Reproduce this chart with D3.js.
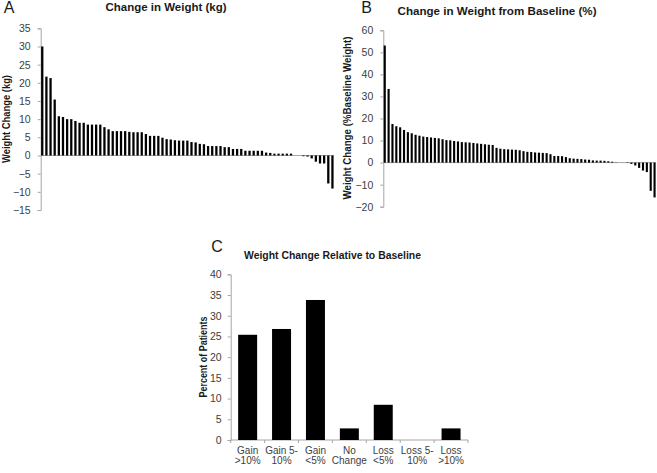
<!DOCTYPE html>
<html>
<head>
<meta charset="utf-8">
<script src="https://cdn.jsdelivr.net/npm/d3@7"></script>
<style>
  body { margin: 0; background: #fff; }
  svg { display: block; font-family: "Liberation Sans", Arial, sans-serif; }
  .axis path, .axis line { stroke: #a6a6a6; }
  .axis text { fill: #404040; font-size: 10.5px; }
  .axis text.cat { font-size: 10px; }
</style>
</head>
<body>
<div id="chart"></div>
<script>
// panel A: change in weight (kg), sorted by patient
const kgChange = [30, 21.7, 21.3, 15.4, 10.8, 10.6, 10.0, 10.0, 9.5, 9.0, 9.0, 8.5, 8.5, 8.5, 8.5,
  7.8, 7.2, 6.7, 6.7, 6.7, 6.7, 6.5, 6.4, 6.4, 6.4, 5.9, 5.4, 5.4, 5.4, 4.9, 4.5, 4.4, 4.2, 4.1,
  4.1, 4.1, 3.7, 3.6, 3.2, 3.1, 2.6, 2.6, 2.6, 2.6, 2.3, 2.3, 1.8, 1.8, 1.8, 1.3, 1.3, 1.3, 1.3,
  1.3, 0.8, 0.7, 0.5, 0.5, 0.5, 0.5, 0.5, 0, 0, -0.2, -0.3, -0.8, -1.7, -2.2, -2.2, -7.7, -9.1];

// panel B: change from baseline (%)
const pctChange = [53.1, 33.4, 17.5, 16.5, 16.0, 14.8, 13.8, 13.3, 12.6, 12.2, 11.8, 11.6, 11.4,
  11.2, 11.0, 10.6, 10.2, 10.1, 9.8, 9.6, 9.3, 9.2, 9.1, 8.9, 8.7, 8.5, 8.3, 8.1, 8.0, 6.7, 6.3,
  6.1, 6.0, 5.9, 5.8, 5.6, 5.2, 4.9, 4.8, 4.6, 4.5, 4.4, 4.3, 3.8, 3.0, 3.0, 2.9, 2.5, 2.0, 1.8,
  1.7, 1.6, 1.4, 1.3, 1.0, 0.9, 0.9, 0.8, 0.6, 0.4, 0.1, 0, 0, -0.2, -0.6, -1.3, -2.4, -3.6,
  -4.3, -12.8, -15.8];

// panel C: categories
const categories = [["Gain", ">10%"], ["Gain 5-", "10%"], ["Gain", "<5%"], ["No", "Change"],
  ["Loss", "<5%"], ["Loss 5-", "10%"], ["Loss", ">10%"]];
const percentPatients = [25.4, 26.8, 33.8, 2.8, 8.5, 0, 2.8];

const ticksA = d3.range(-15, 36, 5);
const ticksB = d3.range(-20, 61, 10);
const ticksC = d3.range(0, 41, 5);

const svg = d3.select("#chart").append("svg")
  .attr("width", 657)
  .attr("height", 473);

function addLabel(x, y, txt, size, weight, len) {
  const t = svg.append("text")
    .attr("x", x).attr("y", y)
    .attr("text-anchor", "middle")
    .style("font-size", size + "px")
    .style("font-weight", weight)
    .style("fill", "#1a1a1a")
    .text(txt);
  if (len) t.attr("textLength", len).attr("lengthAdjust", "spacingAndGlyphs");
  return t;
}

function addYTitle(x, y, txt, len) {
  svg.append("text")
    .attr("transform", `translate(${x},${y}) rotate(-90)`)
    .attr("text-anchor", "middle")
    .style("font-size", "10px")
    .style("font-weight", "bold")
    .style("fill", "#1a1a1a")
    .attr("textLength", len)
    .attr("lengthAdjust", "spacingAndGlyphs")
    .text(txt);
}

// sorted bar panel (A and B)
function sortedBars(values, xr, yr, domain, ticks) {
  const x = d3.scaleBand()
    .domain(d3.range(values.length))
    .range(xr)
    .paddingInner(0.45)
    .paddingOuter(0.1);
  const y = d3.scaleLinear().domain(domain).range(yr);

  svg.append("g")
    .attr("class", "axis")
    .attr("transform", `translate(${xr[0]},0)`)
    .call(d3.axisLeft(y).tickValues(ticks).tickSize(3).tickSizeOuter(3).tickPadding(7));

  svg.append("line")
    .attr("x1", xr[0]).attr("x2", xr[1])
    .attr("y1", y(0)).attr("y2", y(0))
    .attr("stroke", "#a6a6a6");

  svg.append("g")
    .selectAll("rect")
    .data(values)
    .join("rect")
    .attr("x", (d, i) => x(i))
    .attr("width", x.bandwidth())
    .attr("y", d => y(Math.max(0, d)))
    .attr("height", d => Math.abs(y(d) - y(0)))
    .attr("fill", "#000");
}

// A
sortedBars(kgChange, [40.7, 334], [210, 28.3], [-15, 35], ticksA);
addLabel(9, 13, "A", 16, "normal");
addLabel(166, 11, "Change in Weight (kg)", 11, "bold", 121);
addYTitle(10, 119, "Weight Change (kg)", 88);

// B
sortedBars(pctChange, [383.3, 656], [206.7, 30.3], [-20, 60], ticksB);
addLabel(366.5, 13, "B", 16, "normal");
addLabel(497, 15, "Change in Weight from Baseline (%)", 11, "bold", 199);
addYTitle(351, 118, "Weight Change  (%Baseline Weight)", 163);

// C
const xC = d3.scaleBand()
  .domain(d3.range(categories.length))
  .range([230.7, 468])
  .paddingInner(0.44)
  .paddingOuter(0.22);
const yC = d3.scaleLinear().domain([0, 40]).range([440, 274.3]);

svg.append("g")
  .attr("class", "axis")
  .attr("transform", "translate(230.7,0)")
  .call(d3.axisLeft(yC).tickValues(ticksC).tickSize(3).tickSizeOuter(3).tickPadding(6));

const xAxisC = svg.append("g")
  .attr("class", "axis")
  .attr("transform", "translate(0,440)");
xAxisC.append("line")
  .attr("x1", 230.7).attr("x2", 468)
  .attr("stroke", "#a6a6a6");
xAxisC.selectAll(".tk")
  .data(d3.range(categories.length + 1))
  .join("line")
  .attr("class", "tk")
  .attr("x1", i => 230.7 + i * xC.step())
  .attr("x2", i => 230.7 + i * xC.step())
  .attr("y1", 0).attr("y2", 3)
  .attr("stroke", "#a6a6a6");

const catLabels = xAxisC.selectAll(".cat")
  .data(categories)
  .join("text")
  .attr("class", "cat")
  .attr("text-anchor", "middle")
  .attr("transform", (d, i) => `translate(${xC(i) + xC.bandwidth() / 2},0)`);
catLabels.selectAll("tspan")
  .data(d => d)
  .join("tspan")
  .attr("x", 0)
  .attr("y", (d, j) => 13.5 + j * 10)
  .text(d => d);

svg.append("g")
  .selectAll("rect")
  .data(percentPatients)
  .join("rect")
  .attr("x", (d, i) => xC(i))
  .attr("width", xC.bandwidth())
  .attr("y", d => yC(d))
  .attr("height", d => yC(0) - yC(d))
  .attr("fill", "#000");

addLabel(217, 252, "C", 16, "normal");
addLabel(332.5, 259, "Weight Change  Relative to Baseline", 10.5, "bold", 177);
addYTitle(207, 357, "Percent of Patients", 81);
</script>
</body>
</html>
